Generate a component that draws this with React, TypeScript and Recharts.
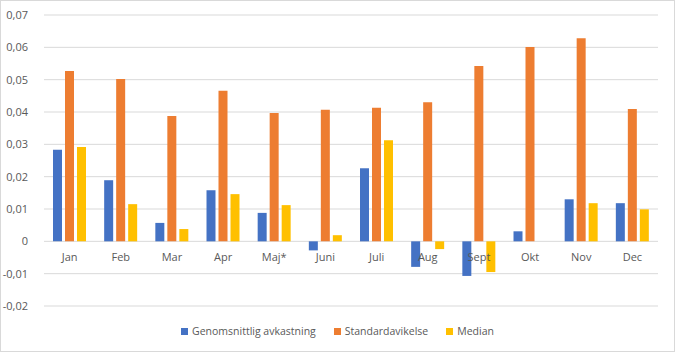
import React from "react";
import { BarChart, Bar, XAxis, YAxis, CartesianGrid } from "recharts";

const months = ["Jan", "Feb", "Mar", "Apr", "Maj*", "Juni", "Juli", "Aug", "Sept", "Okt", "Nov", "Dec"];
const avkastning = [0.0283, 0.0189, 0.0057, 0.0158, 0.0088, -0.0028, 0.0226, -0.0079, -0.0107, 0.0031, 0.013, 0.0118];
const standardavvikelse = [0.0527, 0.0502, 0.0388, 0.0466, 0.0397, 0.0407, 0.0413, 0.043, 0.0542, 0.0601, 0.0628, 0.0409];
const median = [0.0292, 0.0115, 0.0038, 0.0146, 0.0112, 0.0019, 0.0313, -0.0024, -0.0095, 0, 0.0118, 0.0099];
const yTicks = [-0.02, -0.01, 0, 0.01, 0.02, 0.03, 0.04, 0.05, 0.06, 0.07];
const seriesNames = ["Genomsnittlig avkastning", "Standardavikelse", "Median"];
const colors = ["#4472C4", "#ED7D31", "#FFC000"];

const data = months.map((m, i) => ({
  name: m,
  a: avkastning[i],
  s: standardavvikelse[i],
  m: median[i],
}));

const W = 675;
const H = 352;
const M_TOP = 15;
const M_BOTTOM = 26;
const X_H = 20;
const PLOT_H = H - M_TOP - M_BOTTOM - X_H;
const Y_MIN = -0.02;
const Y_MAX = 0.07;
const ZERO_Y = M_TOP + (PLOT_H * (Y_MAX - 0)) / (Y_MAX - Y_MIN);
const FONT = "'Open Sans', 'Liberation Sans', sans-serif";
const TEXT = "#595959";

const fmt = (v: number) => (Math.abs(v) < 1e-9 ? "0" : v.toFixed(2).replace(".", ","));

const renderMonthTick = (props: any) => {
  const { x, payload } = props;
  return (
    <text x={x} y={ZERO_Y + 20} textAnchor="middle" fill={TEXT} fontSize={11} fontFamily={FONT}>
      {payload.value}
    </text>
  );
};

export default function App() {
  return (
    <div style={{ position: "absolute", left: 0, top: 0, width: W, height: H, background: "#fff" }}>
      <div style={{ position: "absolute", left: 0, top: 0, width: W - 2, height: H - 2, border: "1px solid #d9d9d9" }} />
      <BarChart
        width={W}
        height={H}
        data={data}
        margin={{ top: M_TOP, right: 17, bottom: M_BOTTOM, left: 0 }}
        barSize={9}
        barGap={3}
      >
        <CartesianGrid vertical={false} stroke="#d9d9d9" />
        <XAxis
          dataKey="name"
          axisLine={false}
          tickLine={false}
          height={X_H}
          tick={renderMonthTick}
          interval={0}
        />
        <YAxis
          width={44}
          domain={[Y_MIN, Y_MAX]}
          ticks={yTicks}
          tickFormatter={fmt}
          axisLine={false}
          tickLine={false}
          tick={{ fill: TEXT, fontSize: 11, fontFamily: FONT }}
          tickMargin={10}
          interval={0}
        />
        <Bar dataKey="a" fill={colors[0]} isAnimationActive={false} />
        <Bar dataKey="s" fill={colors[1]} isAnimationActive={false} />
        <Bar dataKey="m" fill={colors[2]} isAnimationActive={false} />
      </BarChart>
      <div
        style={{
          position: "absolute",
          left: 0,
          top: 324,
          width: W,
          display: "flex",
          justifyContent: "center",
          fontFamily: FONT,
          fontSize: 10.5,
          color: TEXT,
          gap: 18,
        }}
      >
        {seriesNames.map((n, i) => (
          <div key={n} style={{ display: "flex", alignItems: "center" }}>
            <span style={{ width: 7, height: 7, background: colors[i], display: "inline-block", marginRight: 4 }} />
            <span>{n}</span>
          </div>
        ))}
      </div>
    </div>
  );
}
